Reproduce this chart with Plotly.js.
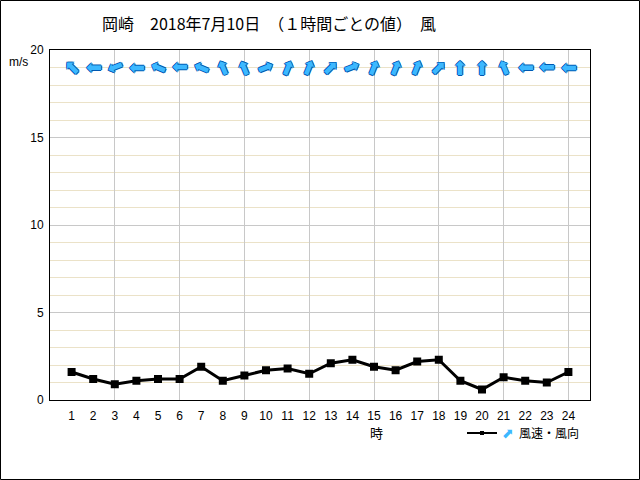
<!DOCTYPE html>
<html>
<head>
<meta charset="utf-8">
<script src="https://cdn.plot.ly/plotly-3.0.1.min.js"></script>
<style>html,body{margin:0;padding:0;background:#fff;}#chart{width:640px;height:480px;}</style>
</head>
<body>
<div id="chart"></div>
<script>
// ---- data ----
const hours = [1,2,3,4,5,6,7,8,9,10,11,12,13,14,15,16,17,18,19,20,21,22,23,24];
const hourLabels = hours.map(String);
const windSpeed = [1.6,1.2,0.9,1.1,1.2,1.2,1.9,1.1,1.4,1.7,1.8,1.5,2.1,2.3,1.9,1.7,2.2,2.3,1.1,0.6,1.3,1.1,1.0,1.6];
// direction the arrow points to (degrees clockwise from up)
const arrowDir = [315,270,247.5,270,292.5,270,292.5,337.5,337.5,67.5,22.5,22.5,45,67.5,22.5,22.5,22.5,45,0,0,337.5,270,270,270];
const vGrid = [3,6,9,12,15,18,21,24];
const titleText = '岡崎　2018年7月10日　（１時間ごとの値）　風';

const ML = 50, MR = 50, MT = 50, MB = 80, W = 640, H = 480;
const PW = W - ML - MR, PH = H - MT - MB;
const cjk = '"Noto Sans CJK JP", "DejaVu Sans", sans-serif';
const numFont = '"Liberation Sans", "DejaVu Sans", sans-serif';
const arrowFill = '#3cb8ff';
const arrowEdge = '#0058b0';
const edgeShadow = '1px 0 0 ' + arrowEdge + ', -1px 0 0 ' + arrowEdge + ', 0 1px 0 ' + arrowEdge + ', 0 -1px 0 ' + arrowEdge;

const traces = [
  {x: hours, y: windSpeed, type: 'scatter', mode: 'lines+markers',
   line: {color: '#000', width: 3}, marker: {symbol: 'square', size: 8, color: '#000'},
   showlegend: false, hoverinfo: 'skip'},
  {x: [null], y: [null], type: 'scatter', mode: 'lines+markers', xaxis: 'x', yaxis: 'y',
   line: {color: '#000', width: 2}, marker: {symbol: 'square', size: 4, color: '#000'},
   name: '<span style="color:' + arrowFill + ';font-size:14px">⬈</span>  風速・風向', showlegend: true},
  {x: [null], y: [null], type: 'scatter', mode: 'markers', xaxis: 'x2', yaxis: 'y',
   showlegend: false, hoverinfo: 'skip'}
];

const annotations = hours.map((h, i) => ({
  x: h, y: 19, xref: 'x', yref: 'y', text: '⬆', showarrow: false,
  xanchor: 'center', yanchor: 'middle',
  textangle: arrowDir[i],
  font: {family: '"DejaVu Sans"', size: 19, color: arrowFill, shadow: edgeShadow}
}));
annotations.push({x: (18 - ML) / PW, y: (H - MB - 62) / PH, xref: 'paper', yref: 'paper',
  xanchor: 'center', yanchor: 'middle',
  text: 'm/s', showarrow: false, font: {family: numFont, size: 12, color: '#000'}});
annotations.push({x: 15.1, y: (H - MB - 432) / PH, xref: 'x', yref: 'paper',
  xanchor: 'center', yanchor: 'middle',
  text: '時', showarrow: false, font: {family: cjk, size: 13, color: '#000'}});

const layout = {
  width: W, height: H,
  margin: {l: ML, r: MR, t: MT, b: MB, pad: 0},
  paper_bgcolor: '#fff', plot_bgcolor: '#fff',
  title: {text: titleText, x: (102 - ML) / PW, xref: 'paper', xanchor: 'left',
          y: 1 - 24 / H, yanchor: 'middle', font: {family: cjk, size: 16, color: '#000'}},
  xaxis: {range: [0, 25], tickmode: 'array', tickvals: hours, ticktext: hourLabels,
          showgrid: false, zeroline: false, ticks: '', showline: true, mirror: true,
          ticklabelstandoff: 5,
          linecolor: '#000', linewidth: 1, tickfont: {family: numFont, size: 12, color: '#000'}},
  xaxis2: {overlaying: 'x', range: [0, 25], tickmode: 'array', tickvals: vGrid,
           showgrid: true, gridcolor: '#c8c8c8', gridwidth: 1, showticklabels: false,
           ticks: '', zeroline: false, showline: false},
  yaxis: {range: [0, 20], tickmode: 'array', tickvals: [0, 5, 10, 15, 20],
          showgrid: true, gridcolor: '#c8c8c8', gridwidth: 1, zeroline: false,
          minor: {dtick: 1, tick0: 0, showgrid: true, gridcolor: '#ebe2c8', gridwidth: 1},
          ticks: '', showline: true, mirror: true, linecolor: '#000', linewidth: 1,
          ticklabelstandoff: 3,
          tickfont: {family: numFont, size: 12, color: '#000'}},
  showlegend: true,
  legend: {x: (462 - ML) / PW, y: (H - MB - 433) / PH, xanchor: 'left', yanchor: 'middle',
           orientation: 'h', itemwidth: 30, bgcolor: 'rgba(0,0,0,0)',
           font: {family: cjk, size: 12, color: '#000'}},
  annotations: annotations,
  shapes: [{type: 'rect', xref: 'paper', yref: 'paper', layer: 'above',
            x0: (0.5 - ML) / PW, x1: (W - 0.5 - ML) / PW,
            y0: (0.5 - MB) / PH, y1: (H - 0.5 - MB) / PH,
            line: {color: '#000', width: 1}}]
};

Plotly.newPlot('chart', traces, layout, {staticPlot: true, displayModeBar: false});
</script>
</body>
</html>
